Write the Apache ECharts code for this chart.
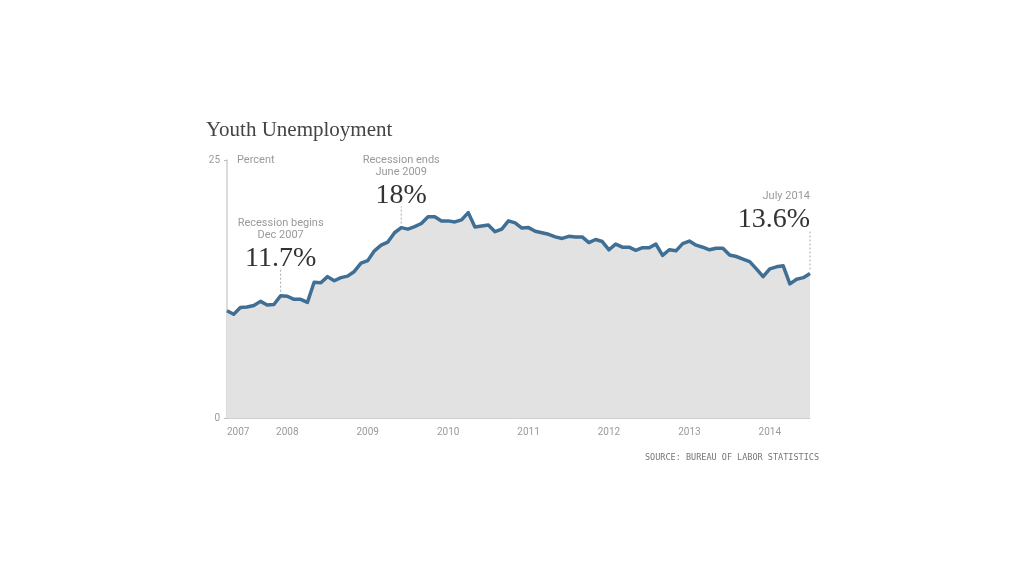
<!DOCTYPE html>
<html>
<head>
<meta charset="utf-8">
<script src="https://cdn.jsdelivr.net/npm/echarts@6/dist/echarts.min.js"></script>
<style>
  html, body { margin: 0; background: #fff; }
  #chart { width: 1024px; height: 576px; }
</style>
</head>
<body>
<div id="chart"></div>
<script>
// monthly series, Apr 2007 .. Jul 2014
const firstYear = 2007
const firstMonth = 4
const months = []
for (let i = 0; i < 88; i++) {
  const m = firstMonth - 1 + i
  months.push(`${firstYear + Math.floor(m / 12)}-${String(m % 12 + 1).padStart(2, '0')}`)
}

// youth unemployment rate, percent
const rate = [
  10.4, 10.05, 10.7, 10.75, 10.9, 11.3, 10.95, 11.0, 11.85, 11.8,
  11.5, 11.5, 11.2, 13.15, 13.1, 13.7, 13.3, 13.6, 13.75, 14.2,
  15.0, 15.25, 16.2, 16.75, 17.05, 17.95, 18.45, 18.3, 18.55, 18.85,
  19.5, 19.5, 19.1, 19.1, 19.0, 19.2, 19.9, 18.5, 18.6, 18.7,
  18.05, 18.3, 19.1, 18.9, 18.4, 18.45, 18.1, 17.95, 17.8, 17.55,
  17.4, 17.6, 17.55, 17.55, 17.0, 17.3, 17.1, 16.3, 16.85, 16.55,
  16.55, 16.25, 16.5, 16.5, 16.85, 15.75, 16.3, 16.2, 16.9, 17.15,
  16.75, 16.55, 16.3, 16.45, 16.45, 15.8, 15.65, 15.4, 15.15, 14.45,
  13.7, 14.45, 14.65, 14.75, 13.0, 13.45, 13.6, 14.0
]

// callouts: which month, the small caption lines and the big number
const notes = [
  { month: '2007-12', caption: ['Recession begins', 'Dec 2007'], big: '11.7%' },
  { month: '2009-06', caption: ['Recession ends', 'June 2009'], big: '18%' },
  { month: '2014-07', caption: ['July 2014'], big: '13.6%' }
]

const grey = '#9a9a9a'
const sans = "'Roboto', sans-serif"
const serif = "'Liberation Serif', 'DejaVu Serif', serif"

const chart = echarts.init(document.getElementById('chart'))

chart.setOption({
  backgroundColor: '#fff',
  animation: false,
  title: {
    text: 'Youth Unemployment',
    left: 201,
    top: 115,
    textStyle: { fontFamily: serif, fontSize: 21, fontWeight: 'normal', color: '#444' }
  },
  grid: { left: 227, right: 214, top: 160, bottom: 158 },
  xAxis: {
    type: 'category',
    data: months,
    boundaryGap: false,
    axisLine: { lineStyle: { color: '#cfcfcf', width: 1 } },
    axisTick: { show: false },
    axisLabel: {
      color: grey,
      fontFamily: sans,
      fontSize: 10,
      margin: 9,
      alignMinLabel: 'left',
      interval: (i, v) => i === 0 || v.endsWith('-01'),
      formatter: v => v.slice(0, 4)
    },
    splitLine: { show: false }
  },
  yAxis: {
    type: 'value',
    min: 0,
    max: 25,
    interval: 25,
    name: 'Percent',
    nameLocation: 'end',
    nameGap: 0,
    nameTextStyle: {
      color: grey, fontFamily: sans, fontSize: 11,
      align: 'left', verticalAlign: 'middle', padding: [0, 0, 0, 10]
    },
    axisLine: { show: true, lineStyle: { color: '#cfcfcf', width: 1.5 } },
    axisTick: { show: true, length: 3, lineStyle: { color: '#bbb' } },
    axisLabel: { color: grey, fontFamily: sans, fontSize: 10, margin: 7 },
    splitLine: { show: false }
  },
  series: [{
    type: 'line',
    data: rate,
    symbol: 'none',
    lineStyle: { color: '#3f6f94', width: 3.5, join: 'round' },
    areaStyle: { color: '#e2e2e2', opacity: 1 },
    z: 3
  }]
})

// place the callouts from the series' own coordinate system
const lifts = [26, 21, 43]
const graphic = [{
  type: 'text',
  right: 205,
  top: 453,
  style: {
    text: 'SOURCE: BUREAU OF LABOR STATISTICS',
    fill: '#777',
    font: "8.5px 'DejaVu Sans Mono', monospace"
  }
}]

notes.forEach((n, k) => {
  const idx = months.indexOf(n.month)
  const [px, py] = chart.convertToPixel({ seriesIndex: 0 }, [idx, rate[idx]])
  const last = idx === months.length - 1
  const align = last ? 'right' : 'center'
  const top = py - lifts[k]
  graphic.push({
    type: 'line',
    shape: { x1: px, y1: py - 4, x2: px, y2: top },
    style: { stroke: '#aaa', lineWidth: 1, lineDash: [2, 2] },
    z: 10
  })
  graphic.push({
    type: 'text',
    x: px,
    y: top + 3,
    style: {
      text: n.big, fill: '#333', font: `28px ${serif}`,
      textAlign: align, textVerticalAlign: 'bottom'
    },
    z: 10
  })
  graphic.push({
    type: 'text',
    x: px,
    y: top - 28,
    style: {
      text: n.caption.join('\n'), fill: grey, font: `11px ${sans}`, lineHeight: 12,
      textAlign: align, textVerticalAlign: 'bottom'
    },
    z: 10
  })
})

chart.setOption({ graphic })
</script>
</body>
</html>
